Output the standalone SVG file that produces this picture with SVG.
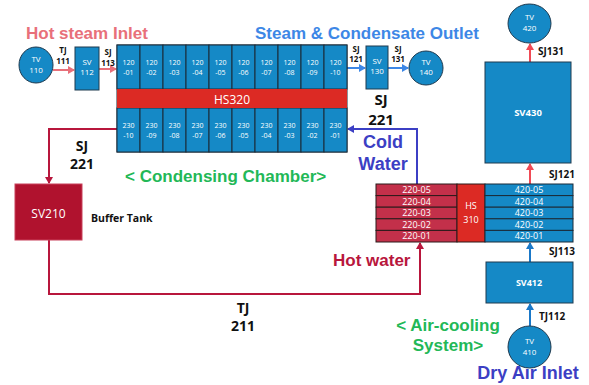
<svg xmlns="http://www.w3.org/2000/svg" width="589" height="385" viewBox="0 0 589 385">
<style>
.bl{fill:#1589c6;stroke:#1f3a4f;stroke-width:1}
.cell{fill:#1589c6;stroke:#1b2b38;stroke-width:1}
.wt{fill:#fff;font-family:"Open Sans","Noto Sans",sans-serif;text-anchor:middle}
.lb{fill:#111;font-family:"Open Sans","Noto Sans",sans-serif;font-weight:bold}
.tt{font-family:"Liberation Sans",Arial,sans-serif;font-weight:bold}
.pk{stroke:#e8707a;stroke-width:2;fill:none}
.bu{stroke:#3d87e6;stroke-width:2;fill:none}
.cr{stroke:#b8163c;stroke-width:2;fill:none}
.pu{stroke:#3c3fc4;stroke-width:2;fill:none}
.rd{stroke:#f04a55;stroke-width:2;fill:none}
.sb{stroke:#1a78c8;stroke-width:2;fill:none}
</style>
<defs>
<marker id="aPk" markerWidth="8" markerHeight="8" refX="6" refY="4" orient="auto" markerUnits="userSpaceOnUse"><path d="M0,0 L7,4 L0,8 z" fill="#e8707a"/></marker>
<marker id="aBu" markerWidth="8" markerHeight="8" refX="6" refY="4" orient="auto" markerUnits="userSpaceOnUse"><path d="M0,0 L7,4 L0,8 z" fill="#3d87e6"/></marker>
<marker id="aCr" markerWidth="8" markerHeight="8" refX="6" refY="4" orient="auto" markerUnits="userSpaceOnUse"><path d="M0,0 L7,4 L0,8 z" fill="#b8163c"/></marker>
<marker id="aPu" markerWidth="8" markerHeight="8" refX="6" refY="4" orient="auto" markerUnits="userSpaceOnUse"><path d="M0,0 L7,4 L0,8 z" fill="#3c3fc4"/></marker>
<marker id="aRd" markerWidth="8" markerHeight="8" refX="6" refY="4" orient="auto" markerUnits="userSpaceOnUse"><path d="M0,0 L7,4 L0,8 z" fill="#f04a55"/></marker>
<marker id="aSb" markerWidth="8" markerHeight="8" refX="6" refY="4" orient="auto" markerUnits="userSpaceOnUse"><path d="M0,0 L7,4 L0,8 z" fill="#1a78c8"/></marker>
</defs>
<rect width="589" height="385" fill="#fff"/>

<g id="connectors">
<line class="pk" x1="53" y1="70" x2="74" y2="70" marker-end="url(#aPk)"/>
<line class="pk" x1="99" y1="69" x2="116" y2="69" marker-end="url(#aPk)"/>
<line class="bu" x1="347" y1="68" x2="365" y2="68" marker-end="url(#aBu)"/>
<line class="bu" x1="388" y1="68" x2="408" y2="68" marker-end="url(#aBu)"/>
<polyline class="cr" points="117,129 49,129 49,183" marker-end="url(#aCr)"/>
<polyline class="cr" points="49,240 49,294 420,294 420,243" marker-end="url(#aCr)"/>
<polyline class="pu" points="417,184 417,129 348,129" marker-end="url(#aPu)"/>
<line class="rd" x1="530" y1="184" x2="530" y2="164" marker-end="url(#aRd)"/>
<line class="rd" x1="530" y1="62" x2="530" y2="44" marker-end="url(#aRd)"/>
<line class="sb" x1="530" y1="262" x2="530" y2="243" marker-end="url(#aSb)"/>
<line class="sb" x1="530" y1="326" x2="530" y2="304" marker-end="url(#aSb)"/>
</g>

<g id="labels">
<text class="tt" x="26" y="39" font-size="17" fill="#e8707a">Hot steam Inlet</text>
<text class="tt" x="255" y="39" font-size="17" fill="#3d87e6">Steam &amp; Condensate Outlet</text>
<text class="tt" x="125" y="182" font-size="17" fill="#22b857">&lt; Condensing Chamber&gt;</text>
<text class="tt" x="383" y="148" font-size="18" fill="#3c3fc4" text-anchor="middle">Cold</text>
<text class="tt" x="383" y="170" font-size="18" fill="#3c3fc4" text-anchor="middle">Water</text>
<text class="tt" x="333" y="266" font-size="17" fill="#b8163c">Hot water</text>
<text class="tt" x="448" y="331" font-size="17" fill="#22b857" text-anchor="middle">&lt; Air-cooling</text>
<text class="tt" x="448" y="351" font-size="17" fill="#22b857" text-anchor="middle">System&gt;</text>
<text class="tt" x="528" y="379" font-size="18" fill="#3c3fc4" text-anchor="middle">Dry Air Inlet</text>
<text class="lb" x="63" y="53" font-size="8" text-anchor="middle">TJ</text>
<text class="lb" x="63" y="64" font-size="8" text-anchor="middle">111</text>
<text class="lb" x="108" y="55" font-size="8" text-anchor="middle">SJ</text>
<text class="lb" x="108" y="66" font-size="8" text-anchor="middle">113</text>
<text class="lb" x="356" y="52" font-size="8" text-anchor="middle">SJ</text>
<text class="lb" x="356" y="62" font-size="8" text-anchor="middle">121</text>
<text class="lb" x="398" y="52" font-size="8" text-anchor="middle">SJ</text>
<text class="lb" x="398" y="62" font-size="8" text-anchor="middle">131</text>
<text class="lb" x="381" y="105" font-size="15" text-anchor="middle">SJ</text>
<text class="lb" x="381" y="125" font-size="15" text-anchor="middle">221</text>
<text class="lb" x="82" y="151" font-size="14" text-anchor="middle">SJ</text>
<text class="lb" x="82" y="169" font-size="14" text-anchor="middle">221</text>
<text class="lb" x="91" y="222" font-size="10.5">Buffer Tank</text>
<text class="lb" x="243" y="313" font-size="14" text-anchor="middle">TJ</text>
<text class="lb" x="243" y="331" font-size="14" text-anchor="middle">211</text>
<text class="lb" x="538" y="55" font-size="10">SJ131</text>
<text class="lb" x="549" y="178" font-size="10">SJ121</text>
<text class="lb" x="549" y="255" font-size="10">SJ113</text>
<text class="lb" x="539" y="320" font-size="10">TJ112</text>
</g>

<g id="TV110"><ellipse class="bl" cx="36" cy="65" rx="17" ry="18"/><text class="wt" x="36" y="62" font-size="8">TV</text><text class="wt" x="36" y="73" font-size="8">110</text></g>
<g id="SV112"><rect class="bl" x="75" y="47" width="24" height="43"/><text class="wt" x="87" y="65" font-size="8">SV</text><text class="wt" x="87" y="75" font-size="8">112</text></g>
<g id="SV130"><rect class="bl" x="366" y="46" width="22" height="43"/><text class="wt" x="377" y="64" font-size="8">SV</text><text class="wt" x="377" y="74" font-size="8">130</text></g>
<g id="TV140"><ellipse class="bl" cx="426" cy="68" rx="17" ry="17"/><text class="wt" x="426" y="65" font-size="8">TV</text><text class="wt" x="426" y="75" font-size="8">140</text></g>
<g id="TV420"><ellipse class="bl" cx="529.5" cy="23.5" rx="21.5" ry="19.5"/><text class="wt" x="529.5" y="20" font-size="8">TV</text><text class="wt" x="529.5" y="31" font-size="8">420</text></g>
<g id="SV430"><rect class="bl" x="485" y="62" width="86" height="101"/><text class="wt" x="528" y="116" font-size="9.5" font-weight="bold">SV430</text></g>
<g id="SV412"><rect class="bl" x="486" y="262" width="87" height="41"/><text class="wt" x="529" y="286" font-size="9" font-weight="bold">SV412</text></g>
<g id="TV410"><ellipse class="bl" cx="529.5" cy="347" rx="21.5" ry="21"/><text class="wt" x="529.5" y="344" font-size="8">TV</text><text class="wt" x="529.5" y="355" font-size="8">410</text></g>
<g id="SV210"><rect x="15" y="184" width="67" height="56" fill="#b0122e" stroke="#c8405a" stroke-width="1"/><text class="wt" x="48.5" y="218" font-size="12">SV210</text></g>

<g id="chamber">
<rect x="117" y="45" width="230" height="107" fill="#1589c6" stroke="#1b2b38" stroke-width="1"/>
<g class="cell">
<rect x="117" y="45" width="23" height="44"/><rect x="140" y="45" width="23" height="44"/><rect x="163" y="45" width="23" height="44"/><rect x="186" y="45" width="23" height="44"/><rect x="209" y="45" width="23" height="44"/><rect x="232" y="45" width="23" height="44"/><rect x="255" y="45" width="23" height="44"/><rect x="278" y="45" width="23" height="44"/><rect x="301" y="45" width="23" height="44"/><rect x="324" y="45" width="23" height="44"/>
<rect x="117" y="108" width="23" height="44"/><rect x="140" y="108" width="23" height="44"/><rect x="163" y="108" width="23" height="44"/><rect x="186" y="108" width="23" height="44"/><rect x="209" y="108" width="23" height="44"/><rect x="232" y="108" width="23" height="44"/><rect x="255" y="108" width="23" height="44"/><rect x="278" y="108" width="23" height="44"/><rect x="301" y="108" width="23" height="44"/><rect x="324" y="108" width="23" height="44"/>
</g>
<rect x="117" y="89" width="230" height="19" fill="#dc2a24"/>
<text class="wt" x="232" y="103.5" font-size="12">HS320</text>
<g class="wt" font-size="7">
<text x="128.5" y="65">120</text><text x="128.5" y="75">-01</text>
<text x="151.5" y="65">120</text><text x="151.5" y="75">-02</text>
<text x="174.5" y="65">120</text><text x="174.5" y="75">-03</text>
<text x="197.5" y="65">120</text><text x="197.5" y="75">-04</text>
<text x="220.5" y="65">120</text><text x="220.5" y="75">-05</text>
<text x="243.5" y="65">120</text><text x="243.5" y="75">-06</text>
<text x="266.5" y="65">120</text><text x="266.5" y="75">-07</text>
<text x="289.5" y="65">120</text><text x="289.5" y="75">-08</text>
<text x="312.5" y="65">120</text><text x="312.5" y="75">-09</text>
<text x="335.5" y="65">120</text><text x="335.5" y="75">-10</text>
<text x="128.5" y="128">230</text><text x="128.5" y="138">-10</text>
<text x="151.5" y="128">230</text><text x="151.5" y="138">-09</text>
<text x="174.5" y="128">230</text><text x="174.5" y="138">-08</text>
<text x="197.5" y="128">230</text><text x="197.5" y="138">-07</text>
<text x="220.5" y="128">230</text><text x="220.5" y="138">-06</text>
<text x="243.5" y="128">230</text><text x="243.5" y="138">-05</text>
<text x="266.5" y="128">230</text><text x="266.5" y="138">-04</text>
<text x="289.5" y="128">230</text><text x="289.5" y="138">-03</text>
<text x="312.5" y="128">230</text><text x="312.5" y="138">-02</text>
<text x="335.5" y="128">230</text><text x="335.5" y="138">-01</text>
</g>
</g>

<g id="exchanger">
<g fill="#c3304a" stroke="#2a1a1a" stroke-width="1">
<rect x="376" y="184" width="81" height="11.6"/><rect x="376" y="195.6" width="81" height="11.6"/><rect x="376" y="207.2" width="81" height="11.6"/><rect x="376" y="218.8" width="81" height="11.6"/><rect x="376" y="230.4" width="81" height="11.6"/>
</g>
<rect x="457" y="184" width="28" height="58" fill="#dc2a24" stroke="#2a1a1a" stroke-width="1"/>
<g fill="#1589c6" stroke="#1b2b38" stroke-width="1">
<rect x="485" y="184" width="88" height="11.6"/><rect x="485" y="195.6" width="88" height="11.6"/><rect x="485" y="207.2" width="88" height="11.6"/><rect x="485" y="218.8" width="88" height="11.6"/><rect x="485" y="230.4" width="88" height="11.6"/>
</g>
<g class="wt" font-size="9">
<text x="416.5" y="193">220-05</text><text x="416.5" y="204.6">220-04</text><text x="416.5" y="216.2">220-03</text><text x="416.5" y="227.8">220-02</text><text x="416.5" y="239.4">220-01</text>
<text x="529" y="193">420-05</text><text x="529" y="204.6">420-04</text><text x="529" y="216.2">420-03</text><text x="529" y="227.8">420-02</text><text x="529" y="239.4">420-01</text>
<text x="471" y="209">HS</text><text x="471" y="223">310</text>
</g>
</g>
</svg>
